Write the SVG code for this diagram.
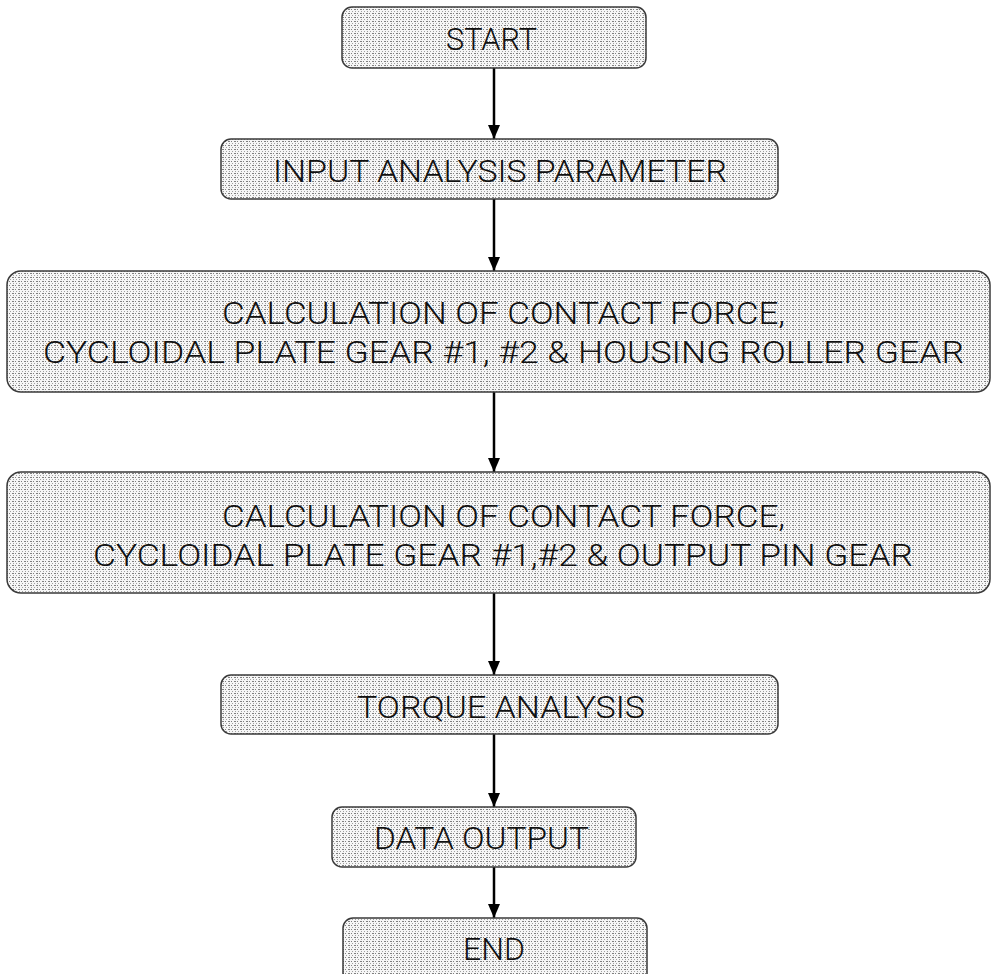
<svg xmlns="http://www.w3.org/2000/svg" width="991" height="974" viewBox="0 0 991 974">
<style>
.box{fill:url(#dots);stroke:#3a3a3a;stroke-width:1.5}
.lbl{font-family:Roboto,Lato,"Liberation Sans",sans-serif;font-weight:300;font-size:31px;fill:#111}
.conn{stroke:#000;stroke-width:2.5;fill:none}
</style>
<defs>
<pattern id="dots" width="6" height="4" patternUnits="userSpaceOnUse">
<rect width="6" height="4" fill="#f6f6f6"/>
<rect x="0" y="1" width="2" height="1" fill="#808080"/>
<rect x="3" y="1" width="1" height="1" fill="#808080"/>
<rect x="1" y="3" width="1" height="1" fill="#a0a0a0"/>
<rect x="4" y="3" width="1" height="1" fill="#a0a0a0"/>
</pattern>
<marker id="arr" markerWidth="14" markerHeight="12" refX="14" refY="6" orient="auto" markerUnits="userSpaceOnUse" viewBox="0 0 14 12">
<path d="M0,0 L14,6 L0,12 Z" fill="#000"/>
</marker>
</defs>
<g id="connectors">
<line class="conn" x1="494" y1="68" x2="494" y2="139" marker-end="url(#arr)"/>
<line class="conn" x1="494" y1="199" x2="494" y2="271" marker-end="url(#arr)"/>
<line class="conn" x1="494" y1="392" x2="494" y2="472" marker-end="url(#arr)"/>
<line class="conn" x1="494" y1="593" x2="494" y2="675" marker-end="url(#arr)"/>
<line class="conn" x1="494" y1="734" x2="494" y2="807" marker-end="url(#arr)"/>
<line class="conn" x1="494" y1="867" x2="494" y2="918" marker-end="url(#arr)"/>
</g>
<g id="start">
<rect class="box" x="342" y="7" width="304" height="61" rx="10"/>
<text class="lbl" x="446" y="50" textLength="91" lengthAdjust="spacingAndGlyphs">START</text>
</g>
<g id="input">
<rect class="box" x="221" y="139" width="557" height="60" rx="10"/>
<text class="lbl" x="273" y="182" textLength="454" lengthAdjust="spacingAndGlyphs">INPUT ANALYSIS PARAMETER</text>
</g>
<g id="calc1">
<rect class="box" x="7" y="271" width="983" height="121" rx="14"/>
<text class="lbl" x="222" y="324" textLength="563" lengthAdjust="spacingAndGlyphs">CALCULATION OF CONTACT FORCE,</text>
<text class="lbl" x="43" y="363" textLength="921" lengthAdjust="spacingAndGlyphs">CYCLOIDAL PLATE GEAR #1, #2 &amp; HOUSING ROLLER GEAR</text>
</g>
<g id="calc2">
<rect class="box" x="7" y="472" width="983" height="121" rx="14"/>
<text class="lbl" x="222" y="527" textLength="563" lengthAdjust="spacingAndGlyphs">CALCULATION OF CONTACT FORCE,</text>
<text class="lbl" x="93" y="566" textLength="820" lengthAdjust="spacingAndGlyphs">CYCLOIDAL PLATE GEAR #1,#2 &amp; OUTPUT PIN GEAR</text>
</g>
<g id="torque">
<rect class="box" x="221" y="675" width="557" height="59" rx="10"/>
<text class="lbl" x="357" y="718" textLength="288" lengthAdjust="spacingAndGlyphs">TORQUE ANALYSIS</text>
</g>
<g id="data">
<rect class="box" x="332" y="807" width="304" height="60" rx="10"/>
<text class="lbl" x="374" y="849" textLength="215" lengthAdjust="spacingAndGlyphs">DATA OUTPUT</text>
</g>
<g id="end">
<rect class="box" x="343" y="918" width="304" height="70" rx="10"/>
<text class="lbl" x="463" y="960" textLength="62" lengthAdjust="spacingAndGlyphs">END</text>
</g>
</svg>
